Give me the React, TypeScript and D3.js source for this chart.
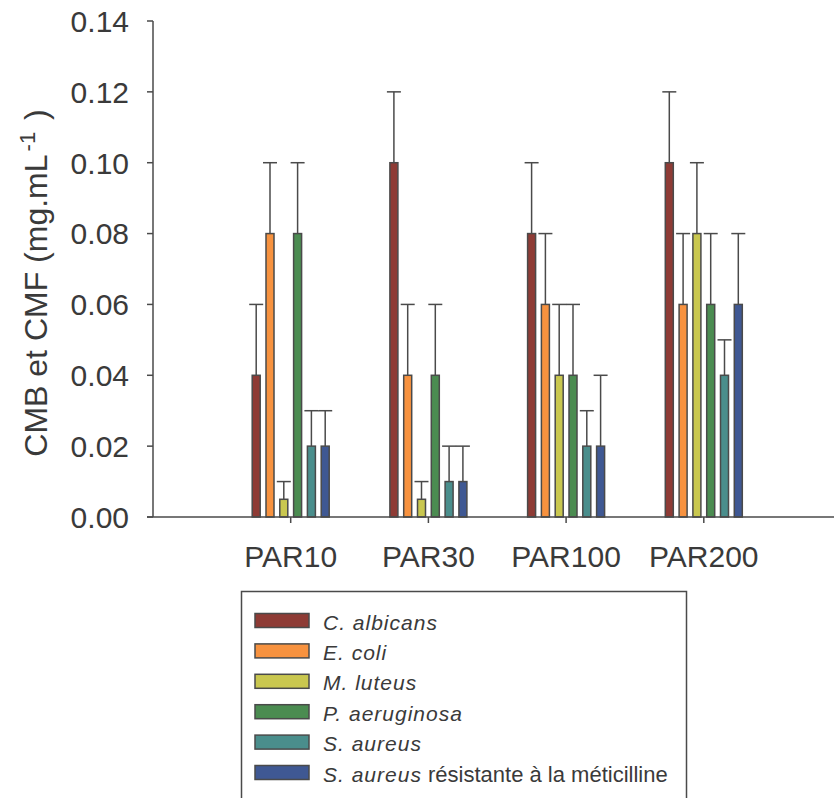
import React from "react";
import * as d3 from "d3";

const categories = ["PAR10", "PAR30", "PAR100", "PAR200"];
const seriesNames = ["C. albicans", "E. coli", "M. luteus", "P. aeruginosa", "S. aureus", "S. aureus SARM"];
const seriesColors = ["#8E3B35", "#F7923F", "#C9C74F", "#4B8C51", "#4A8E8C", "#3F5893"];
const cAlbicans = [0.04, 0.10, 0.08, 0.10];
const cAlbicansErr = [0.02, 0.02, 0.02, 0.02];
const eColi = [0.08, 0.04, 0.06, 0.06];
const eColiErr = [0.02, 0.02, 0.02, 0.02];
const mLuteus = [0.005, 0.005, 0.04, 0.08];
const mLuteusErr = [0.005, 0.005, 0.02, 0.02];
const pAeruginosa = [0.08, 0.04, 0.04, 0.06];
const pAeruginosaErr = [0.02, 0.02, 0.02, 0.02];
const sAureus = [0.02, 0.01, 0.02, 0.04];
const sAureusErr = [0.01, 0.01, 0.01, 0.01];
const sarm = [0.02, 0.01, 0.02, 0.06];
const sarmErr = [0.01, 0.01, 0.02, 0.02];
const yTicks = [0, 0.02, 0.04, 0.06, 0.08, 0.1, 0.12, 0.14];

const values = [cAlbicans, eColi, mLuteus, pAeruginosa, sAureus, sarm];
const errors = [cAlbicansErr, eColiErr, mLuteusErr, pAeruginosaErr, sAureusErr, sarmErr];

const W = 834;
const H = 798;
const TEXT = "#3a3a3a";
const LINE = "#4a4a4a";
const FONT = "'Liberation Sans', Arial, sans-serif";

export default function App() {
  const y = d3.scaleLinear().domain([0, 0.14]).range([517, 21]);
  const x = d3.scaleLinear().domain([0, 5]).range([153, 841.5]);
  const x1 = d3.scaleBand<string>().domain(seriesNames).range([-41.4, 41.4]).padding(0);
  const barW = 8;
  const capW = 14;
  const axisRight = W;

  return (
    <svg width={W} height={H} style={{ position: "absolute", left: 0, top: 0, background: "#fff" }} fontFamily={FONT}>
      <rect x={0} y={0} width={W} height={H} fill="#fff" />
      {categories.map((c, ci) => (
        <g key={c}>
          {seriesNames.map((s, si) => {
            const v = values[si][ci];
            const e = errors[si][ci];
            const cx = x(ci + 1) + (x1(s) as number) + x1.bandwidth() / 2;
            return (
              <g key={s}>
                <line x1={cx} x2={cx} y1={y(v)} y2={y(v + e)} stroke={LINE} strokeWidth={1.5} />
                <line x1={cx - capW / 2} x2={cx + capW / 2} y1={y(v + e)} y2={y(v + e)} stroke={LINE} strokeWidth={1.5} />
                <rect x={cx - barW / 2} y={y(v)} width={barW} height={y(0) - y(v)} fill={seriesColors[si]} stroke={LINE} strokeWidth={1.5} />
              </g>
            );
          })}
        </g>
      ))}
      <line x1={153} x2={153} y1={y(0.14)} y2={y(0)} stroke={LINE} strokeWidth={1.5} />
      {yTicks.map((t) => (
        <g key={t}>
          <line x1={147} x2={153} y1={y(t)} y2={y(t)} stroke={LINE} strokeWidth={1.5} />
          <text x={129} y={y(t)} dy="0.36em" textAnchor="end" fontSize={30} fill={TEXT}>
            {t.toFixed(2)}
          </text>
        </g>
      ))}
      <line x1={147} x2={axisRight} y1={y(0)} y2={y(0)} stroke={LINE} strokeWidth={1.5} />
      {categories.map((c, ci) => (
        <g key={c}>
          <line x1={x(ci + 1)} x2={x(ci + 1)} y1={y(0)} y2={y(0) + 6} stroke={LINE} strokeWidth={1.5} />
          <text x={x(ci + 1)} y={567} textAnchor="middle" fontSize={30} fill={TEXT}>
            {c}
          </text>
        </g>
      ))}
      <text transform="translate(47, 283) rotate(-90)" textAnchor="middle" fontSize={32} fill={TEXT}>
        CMB et CMF (mg.mL
        <tspan fontSize={22} dx={3} dy={-12}>-1</tspan>
        <tspan dx={3} dy={12}> )</tspan>
      </text>
      <rect x={241.5} y={591.5} width={445} height={240} fill="#fff" stroke={LINE} strokeWidth={1.5} />
      {seriesNames.map((s, si) => {
        const ry = 613.5 + si * 30.4;
        return (
          <g key={s}>
            <rect x={255} y={ry} width={54} height={14} fill={seriesColors[si]} stroke={LINE} strokeWidth={1.5} />
            <text x={323} y={ry + 16} fontSize={21} fill={TEXT}>
              {si === 5 ? (
                <>
                  <tspan fontStyle="italic" letterSpacing={1}>S. aureus</tspan>
                  <tspan fontSize={22}> résistante à la méticilline</tspan>
                </>
              ) : (
                <tspan fontStyle="italic" letterSpacing={1}>{s}</tspan>
              )}
            </text>
          </g>
        );
      })}
    </svg>
  );
}
